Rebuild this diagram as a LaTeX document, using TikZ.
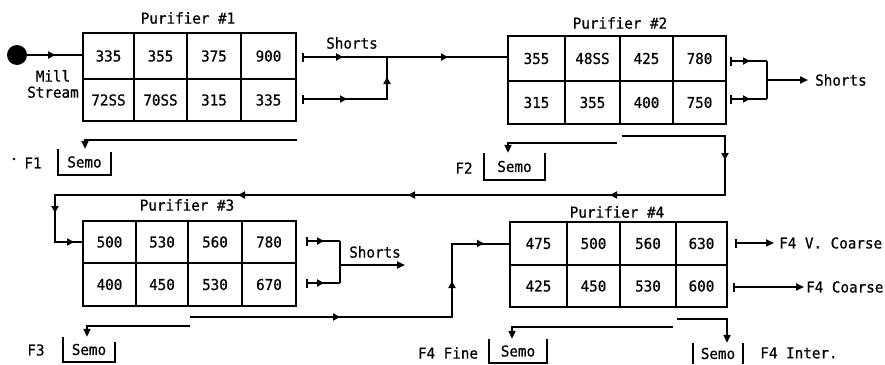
\documentclass[tikz,border=0pt]{standalone}
\usepackage{fontspec}
\setmonofont[FakeStretch=0.95,FakeBold=0.6]{DejaVu Sans Mono}
\usetikzlibrary{arrows.meta,decorations.markings}
\pgfkeys{/pgf/decoration/am/.style={mark=at position #1 with {\arrow{Triangle[length=7pt,width=7pt]}}}}
\newcommand\pcell[6]{\node[cell,minimum width={(#3-#2)*1pt},minimum height={(#5-#4)*1pt}] (#1) at ({(#2+#3)/2},{(#4+#5)/2}) {#6};}
\begin{document}
\begin{tikzpicture}[x=1pt,y=-1pt,
  every node/.style={font=\ttfamily\fontsize{15}{16}\selectfont,inner sep=0pt},
  cell/.style={draw,line width=2.5pt},
  conn/.style={line width=2pt},
  semobox/.style={line width=2pt},
  stick/.style={{Bar[width=9pt]}-},
  etip/.style={-{Triangle[length=8pt,width=7pt]}},
  bothtip/.style={{Bar[width=9pt]}-{Triangle[length=8pt,width=7pt]}},
  arr/.style={postaction={decorate,decoration={markings,am=#1}}}]
\useasboundingbox (0,0) rectangle (885,364);

% Purifier 1
\pcell{p1a1}{83}{134}{33}{79}{335}
\pcell{p1a2}{134}{187}{33}{79}{355}
\pcell{p1a3}{187}{241}{33}{79}{375}
\pcell{p1a4}{241}{296}{33}{79}{900}
\pcell{p1b1}{83}{134}{79}{121}{72SS}
\pcell{p1b2}{134}{187}{79}{121}{70SS}
\pcell{p1b3}{187}{241}{79}{121}{315}
\pcell{p1b4}{241}{296}{79}{121}{335}
\node (t1) at (188,18) {Purifier \#1};

% Purifier 2
\pcell{p2a1}{508}{565}{36}{81}{355}
\pcell{p2a2}{565}{620}{36}{81}{48SS}
\pcell{p2a3}{620}{673}{36}{81}{425}
\pcell{p2a4}{673}{726}{36}{81}{780}
\pcell{p2b1}{508}{565}{81}{124}{315}
\pcell{p2b2}{565}{620}{81}{124}{355}
\pcell{p2b3}{620}{673}{81}{124}{400}
\pcell{p2b4}{673}{726}{81}{124}{750}
\node (t2) at (620,23) {Purifier \#2};

% Purifier 3
\pcell{p3a1}{83}{136}{221}{263}{500}
\pcell{p3a2}{136}{188}{221}{263}{530}
\pcell{p3a3}{188}{242}{221}{263}{560}
\pcell{p3a4}{242}{296}{221}{263}{780}
\pcell{p3b1}{83}{136}{263}{306}{400}
\pcell{p3b2}{136}{188}{263}{306}{450}
\pcell{p3b3}{188}{242}{263}{306}{530}
\pcell{p3b4}{242}{296}{263}{306}{670}
\node (t3) at (187,205) {Purifier \#3};

% Purifier 4
\pcell{p4a1}{510}{567}{222}{265}{475}
\pcell{p4a2}{567}{620}{222}{265}{500}
\pcell{p4a3}{620}{676}{222}{265}{560}
\pcell{p4a4}{676}{727}{222}{265}{630}
\pcell{p4b1}{510}{567}{265}{307}{425}
\pcell{p4b2}{567}{620}{265}{307}{450}
\pcell{p4b3}{620}{676}{265}{307}{530}
\pcell{p4b4}{676}{727}{265}{307}{600}
\node (t4) at (617,212) {Purifier \#4};

% Mill stream
\node[circle,fill,minimum size=20pt] (mill) at (17,55) {};
\node[align=center] (millt) at (53,84) {Mill\\Stream};
\draw[conn,arr=28pt] (mill) -- (mill -| p1a1.west);

% Purifier 1 shorts
\coordinate (o1t) at (302,57);
\coordinate (j1t) at (387,57);
\coordinate (o1b) at (302,99);
\coordinate (j1b) at (387,99);
\draw[conn,stick,arr=41pt] (o1t) -- (j1t);
\draw[conn,arr=61pt] (j1t) -- (j1t -| p2a1.west);
\draw[conn,stick,postaction={decorate,decoration={markings,am=45pt,am=107pt}}] (o1b) -- (j1b) -- (j1t);
\node (sh1) at (352,43) {Shorts};

% Purifier 2 shorts
\coordinate (o2t) at (730,61);
\coordinate (j2t) at (767,61);
\coordinate (o2b) at (730,99);
\coordinate (j2b) at (767,99);
\coordinate (j2m) at (767,80);
\coordinate (e2) at (808,80);
\draw[conn,stick,arr=20pt] (o2t) -- (j2t);
\draw[conn,stick,arr=20pt] (o2b) -- (j2b);
\draw[conn] (j2t) -- (j2b);
\draw[conn,etip] (j2m) -- (e2);
\node[anchor=west] (sh2) at (815,80) {Shorts};

% F1 semo
\node[minimum width=53pt,minimum height=26pt] (sm1) at (84.5,162) {Semo};
\draw[semobox] (sm1.north west) -- (sm1.south west) -- (sm1.south east) -- ([yshift=-3pt]sm1.north east);
\node (f1) at (33,163) {F1};
\fill (14,159) circle (1.3);
\coordinate (s1r) at (297,140);
\coordinate (s1l) at (85,140);
\draw[conn,etip] (s1r) -- (s1l) -- (s1l |- sm1.north);

% F2 semo
\node[minimum width=61pt,minimum height=27pt] (sm2) at (514.5,166.5) {Semo};
\draw[semobox] (sm2.north west) -- (sm2.south west) -- (sm2.south east) -- (sm2.north east);
\node (f2) at (464,168) {F2};
\coordinate (s2r) at (617,143);
\coordinate (s2l) at (508,143);
\draw[conn,etip] (s2r) -- (s2l) -- (s2l |- sm2.north);

% Purifier 2 -> Purifier 3
\coordinate (a) at (622,136);
\coordinate (b) at (725,136);
\coordinate (c) at (725,195);
\coordinate (d) at (55,195);
\coordinate (e) at (55,242);
\draw[conn,postaction={decorate,decoration={markings,am=127pt,am=277pt,am=479pt,am=649pt,am=850pt}}] (a) -- (b) -- (c) -- (d) -- (e) -- (e -| p3a1.west);
\draw[conn,arr=19pt] (e) -- (e -| p3a1.west);

% Purifier 3 shorts
\coordinate (o3t) at (306,241);
\coordinate (j3t) at (340,241);
\coordinate (o3b) at (306,283);
\coordinate (j3b) at (340,283);
\coordinate (j3m) at (340,265);
\coordinate (e3) at (405,265);
\draw[conn,stick,arr=18pt] (o3t) -- (j3t);
\draw[conn,stick,arr=18pt] (o3b) -- (j3b);
\draw[conn] (j3t) -- (j3b);
\draw[conn,etip] (j3m) -- (e3);
\node (sh3) at (375,252) {Shorts};

% F3 semo
\node[minimum width=52pt,minimum height=25pt] (sm3) at (89,349.5) {Semo};
\draw[semobox] (sm3.north west) -- (sm3.south west) -- (sm3.south east) -- ([yshift=-5pt]sm3.north east);
\node (f3) at (36,350) {F3};
\coordinate (s3r) at (190,326);
\coordinate (s3l) at (87,326);
\draw[conn,etip] (s3r) -- (s3l) -- (s3l |- sm3.north);

% Purifier 3 -> Purifier 4
\coordinate (q1) at (190,317);
\coordinate (q2) at (452,317);
\coordinate (q3) at (452,243.5);
\draw[conn,postaction={decorate,decoration={markings,am=150pt,am=298pt}}] (q1) -- (q2) -- (q3) -- (q3 -| p4a1.west);
\draw[conn,arr=32pt] (q3) -- (q3 -| p4a1.west);

% F4 Fine semo
\node[minimum width=58pt,minimum height=24pt] (sm4) at (518,351) {Semo};
\draw[semobox] (sm4.north west) -- (sm4.south west) -- (sm4.south east) -- (sm4.north east);
\node (f4f) at (448,353) {F4 Fine};
\coordinate (s4r) at (673,327);
\coordinate (s4l) at (512,327);
\draw[conn,etip] (s4r) -- (s4l) -- (s4l |- sm4.north);

% F4 Inter semo
\node[minimum width=50pt,minimum height=21pt] (sm5) at (718,353.5) {Semo};
\draw[semobox] (sm5.north west) -- (sm5.south west);
\draw[semobox] (sm5.north east) -- (sm5.south east);
\node (f4i) at (799,353) {F4 Inter.};
\coordinate (s5l) at (677,319);
\coordinate (s5r) at (727,319);
\draw[conn,etip] (s5l) -- (s5r) -- (s5r |- sm5.north);

% Purifier 4 outputs
\coordinate (o4t) at (735,243);
\coordinate (e4t) at (774,243);
\coordinate (o4b) at (733,287);
\coordinate (e4b) at (804,287);
\draw[conn,bothtip] (o4t) -- (e4t);
\draw[conn,bothtip] (o4b) -- (e4b);
\node[anchor=west] (vc) at (779,243) {F4 V. Coarse};
\node[anchor=west] (co) at (806,287) {F4 Coarse};
\end{tikzpicture}
\end{document}
